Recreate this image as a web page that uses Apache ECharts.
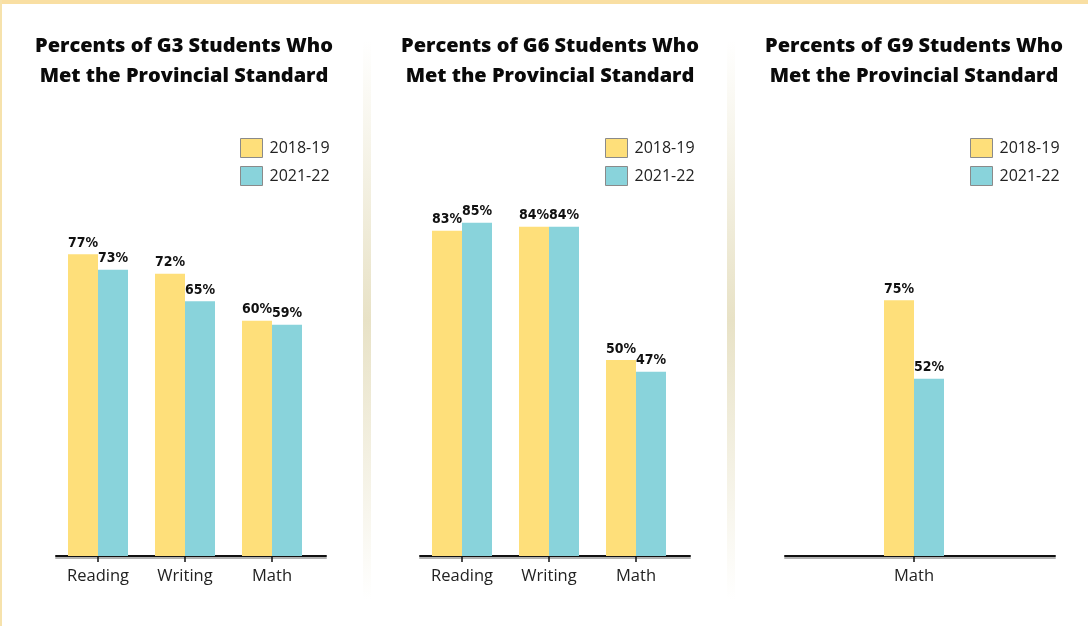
<!DOCTYPE html>
<html>
<head>
<meta charset="utf-8">
<script src="https://cdn.jsdelivr.net/npm/echarts@6/dist/echarts.min.js"></script>
<style>
  html, body { margin: 0; padding: 0; background: #fff; }
  #chart { width: 1088px; height: 626px; }
</style>
</head>
<body>
<div id="chart"></div>
<script>
var years = ['2018-19', '2021-22'];

var g3Subjects = ['Reading', 'Writing', 'Math'];
var g3Before = [77, 72, 60];
var g3After = [73, 65, 59];

var g6Subjects = ['Reading', 'Writing', 'Math'];
var g6Before = [83, 84, 50];
var g6After = [85, 84, 47];

var g9Subjects = ['Math'];
var g9Before = [75];
var g9After = [52];

var titles = [
  'Percents of G3 Students Who\nMet the Provincial Standard',
  'Percents of G6 Students Who\nMet the Provincial Standard',
  'Percents of G9 Students Who\nMet the Provincial Standard'
];

var colors = ['#FEDF7A', '#89D3DB'];

var panels = [
  { cats: g3Subjects, a: g3Before, b: g3After, barLeft: 54.5, barWidth: 261, lineLeft: 56, center: 184, legendLeft: 240, yMax: 100 },
  { cats: g6Subjects, a: g6Before, b: g6After, barLeft: 418.5, barWidth: 261, lineLeft: 420, center: 550, legendLeft: 605, yMax: 100 },
  { cats: g9Subjects, a: g9Before, b: g9After, barLeft: 870.5, barWidth: 87, lineLeft: 785, center: 914, legendLeft: 970, yMax: 115 }
];

var labelFont = '"Open Sans", "Noto Sans", sans-serif';

var option = {
  backgroundColor: '#fff',
  animation: false,
  color: colors,
  title: [],
  legend: [],
  grid: [],
  xAxis: [],
  yAxis: [],
  series: [],
  graphic: [
    { type: 'rect', shape: { x: 0, y: 0, width: 1088, height: 4 }, style: { fill: '#F9DFA3' }, silent: true },
    { type: 'rect', shape: { x: 0, y: 0, width: 2, height: 626 }, style: { fill: '#F6E2AC' }, silent: true }
  ]
};

// soft separators between panels
[363, 727].forEach(function (x) {
  option.graphic.push({
    type: 'rect',
    shape: { x: x, y: 40, width: 8, height: 560 },
    silent: true,
    style: {
      fill: new echarts.graphic.LinearGradient(0, 0, 0, 1, [
        { offset: 0, color: 'rgba(232,226,198,0)' },
        { offset: 0.5, color: 'rgba(232,226,198,1)' },
        { offset: 1, color: 'rgba(232,226,198,0)' }
      ])
    }
  });
});

panels.forEach(function (p, i) {
  option.title.push({
    text: titles[i],
    left: p.center,
    top: 31,
    padding: 0,
    textAlign: 'center',
    textStyle: {
      fontFamily: '"Open Sans", sans-serif',
      fontWeight: 800,
      fontSize: 20,
      lineHeight: 30,
      color: '#0a0a0a'
    }
  });

  option.legend.push({
    data: years,
    orient: 'vertical',
    left: p.legendLeft,
    top: 138,
    padding: 0,
    itemWidth: 22,
    itemHeight: 19,
    itemGap: 8,
    icon: 'rect',
    itemStyle: { borderColor: '#8a8a8a', borderWidth: 1 },
    textStyle: { fontFamily: labelFont, fontSize: 16, color: '#222', padding: [0, 0, 0, 2] }
  });

  // grid with the bars
  option.grid.push({ left: p.barLeft, width: p.barWidth, top: 164, height: 392 });
  // grid that only carries the longer base line
  option.grid.push({ left: p.lineLeft, width: 270, top: 164, height: 392 });

  option.xAxis.push({
    type: 'category',
    gridIndex: i * 2,
    data: p.cats,
    axisLine: { show: false },
    axisTick: { show: true, alignWithLabel: true, length: 6, lineStyle: { color: '#111', width: 1.5 } },
    axisLabel: { margin: 12, fontFamily: labelFont, fontSize: 16.5, color: '#222' },
    z: 5
  });
  option.xAxis.push({
    type: 'category',
    gridIndex: i * 2 + 1,
    data: [''],
    axisLine: { show: true, lineStyle: { color: '#111', width: 2, shadowColor: 'rgba(0,0,0,0.3)', shadowOffsetY: 2 } },
    axisTick: { show: false },
    axisLabel: { show: false }
  });

  option.yAxis.push({ type: 'value', gridIndex: i * 2, min: 0, max: p.yMax, show: false });
  option.yAxis.push({ type: 'value', gridIndex: i * 2 + 1, min: 0, max: 100, show: false });

  [p.a, p.b].forEach(function (vals, k) {
    option.series.push({
      name: years[k],
      type: 'bar',
      xAxisIndex: i * 2,
      yAxisIndex: i * 2,
      data: vals,
      barWidth: 30,
      barGap: '0%',
      itemStyle: { color: colors[k] },
      label: {
        show: true,
        position: 'top',
        distance: 4,
        formatter: '{c}%',
        fontFamily: '"DejaVu Sans Condensed", sans-serif',
        fontWeight: 'bold',
        fontSize: 14,
        color: '#111'
      }
    });
  });
});

var myChart = echarts.init(document.getElementById('chart'));
myChart.setOption(option);
</script>
</body>
</html>
